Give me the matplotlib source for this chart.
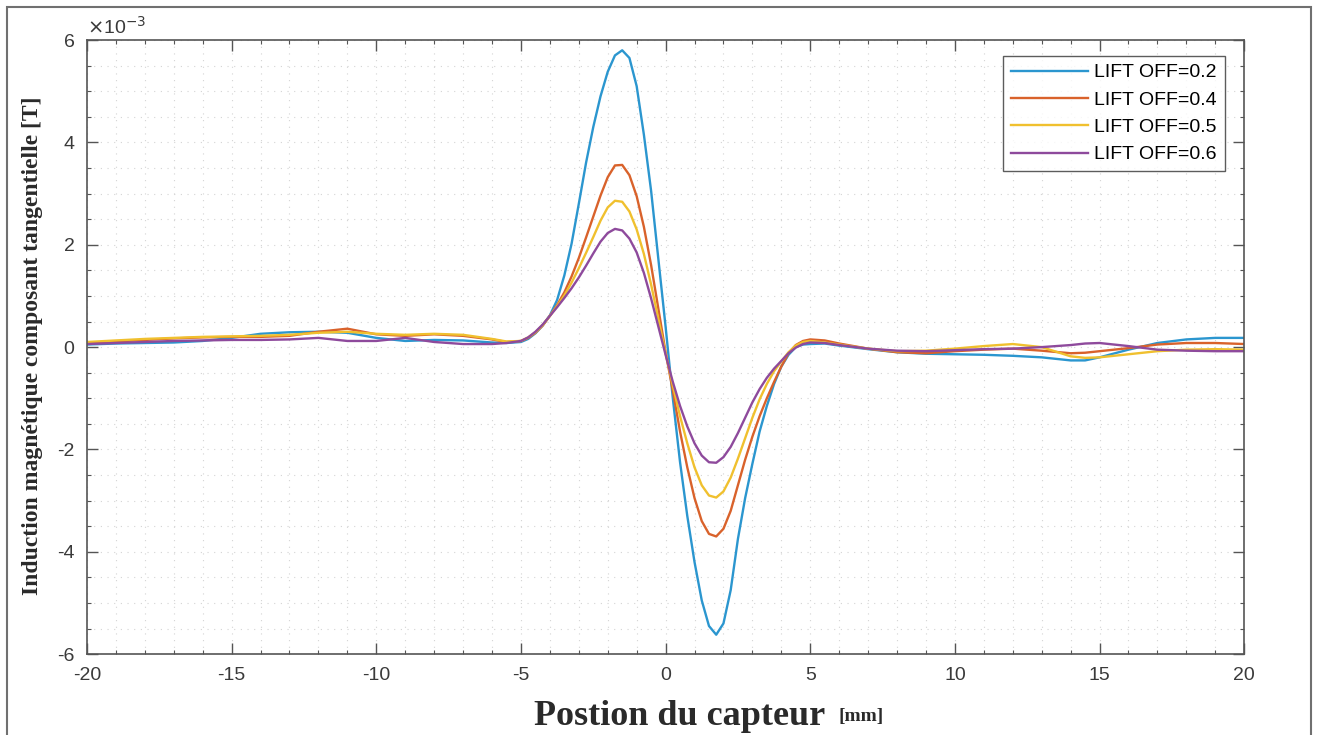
import matplotlib
matplotlib.use("Agg")
import matplotlib.pyplot as plt
from matplotlib.patches import Rectangle
from matplotlib.ticker import MultipleLocator
import numpy as np

# positions du capteur [mm]
x_left = [-20, -19, -18, -17, -16, -15, -14, -13, -12, -11, -10, -9, -8, -7, -6, -5.5]
x_mid = [-5.0, -4.75, -4.5, -4.25, -4.0, -3.75, -3.5, -3.25, -3.0, -2.75, -2.5, -2.25,
         -2.0, -1.75, -1.5, -1.25, -1.0, -0.75, -0.5, -0.25, 0.0, 0.25, 0.5, 0.75,
         1.0, 1.25, 1.5, 1.75, 2.0, 2.25, 2.5, 2.75, 3.0, 3.25, 3.5, 3.75, 4.0, 4.25,
         4.5, 4.75]
x_right = [5, 5.5, 6, 7, 8, 9, 10, 11, 12, 13, 14, 14.5, 15, 16, 17, 18, 19, 20]
position = x_left + x_mid + x_right

# induction tangentielle, en 1e-3 T
b_02 = ([0.05, 0.07, 0.08, 0.09, 0.12, 0.18, 0.26, 0.29, 0.30, 0.28, 0.18, 0.12, 0.14, 0.13, 0.09, 0.08]
        + [0.10, 0.16, 0.27, 0.42, 0.62, 0.92, 1.40, 2.02, 2.80, 3.60, 4.30, 4.90,
           5.38, 5.70, 5.80, 5.65, 5.10, 4.15, 3.05, 1.72, 0.40, -1.00, -2.25, -3.30,
           -4.20, -4.95, -5.45, -5.62, -5.40, -4.75, -3.75, -2.95, -2.28, -1.65, -1.15, -0.72, -0.38, -0.15,
           0.00, 0.05]
        + [0.06, 0.07, 0.03, -0.04, -0.10, -0.13, -0.14, -0.15, -0.17, -0.20, -0.26, -0.26, -0.20, -0.05, 0.08, 0.15, 0.18, 0.18])
b_04 = ([0.08, 0.11, 0.14, 0.17, 0.19, 0.20, 0.20, 0.22, 0.30, 0.36, 0.25, 0.22, 0.25, 0.22, 0.15, 0.10]
        + [0.12, 0.18, 0.28, 0.42, 0.61, 0.82, 1.07, 1.38, 1.74, 2.14, 2.55, 2.96,
           3.32, 3.55, 3.56, 3.36, 2.95, 2.35, 1.60, 0.75, -0.10, -0.85, -1.65, -2.35,
           -2.95, -3.40, -3.65, -3.70, -3.55, -3.20, -2.70, -2.20, -1.75, -1.35, -1.00, -0.68, -0.38, -0.12,
           0.04, 0.12]
        + [0.15, 0.13, 0.07, -0.03, -0.10, -0.12, -0.08, -0.05, -0.03, -0.07, -0.12, -0.11, -0.08, -0.02, 0.05, 0.08, 0.08, 0.06])
b_05 = ([0.10, 0.13, 0.16, 0.18, 0.20, 0.21, 0.22, 0.24, 0.28, 0.30, 0.26, 0.24, 0.26, 0.24, 0.16, 0.11]
        + [0.12, 0.19, 0.29, 0.43, 0.61, 0.80, 1.01, 1.26, 1.54, 1.84, 2.15, 2.47,
           2.73, 2.86, 2.84, 2.65, 2.30, 1.82, 1.22, 0.55, -0.12, -0.75, -1.35, -1.88,
           -2.35, -2.70, -2.90, -2.94, -2.82, -2.55, -2.18, -1.78, -1.38, -1.02, -0.72, -0.47, -0.28, -0.10,
           0.03, 0.10]
        + [0.12, 0.09, 0.05, -0.03, -0.08, -0.07, -0.03, 0.02, 0.06, 0.00, -0.18, -0.21, -0.20, -0.14, -0.08, -0.05, -0.04, -0.05])
b_06 = ([0.06, 0.08, 0.10, 0.12, 0.13, 0.14, 0.14, 0.15, 0.18, 0.12, 0.12, 0.18, 0.10, 0.06, 0.06, 0.08]
        + [0.12, 0.19, 0.30, 0.44, 0.61, 0.78, 0.96, 1.15, 1.36, 1.59, 1.83, 2.06,
           2.23, 2.31, 2.28, 2.12, 1.85, 1.45, 0.95, 0.40, -0.15, -0.68, -1.15, -1.55,
           -1.88, -2.12, -2.25, -2.26, -2.15, -1.95, -1.68, -1.38, -1.08, -0.82, -0.60, -0.42, -0.27, -0.12,
           -0.01, 0.06]
        + [0.09, 0.08, 0.04, -0.03, -0.07, -0.08, -0.06, -0.04, -0.03, 0.00, 0.04, 0.07, 0.08, 0.02, -0.05, -0.07, -0.08, -0.08])

labels = ["LIFT OFF=0.2", "LIFT OFF=0.4", "LIFT OFF=0.5", "LIFT OFF=0.6"]
colors = ["#2b96cf", "#d9622b", "#f0c02e", "#8e4a9c"]

plt.rcParams['axes.unicode_minus'] = False
fig = plt.figure(figsize=(13.18, 7.35), dpi=100)
ax = fig.add_axes([0.066, 0.110, 0.878, 0.8355])

for vals, lab, col in zip([b_02, b_04, b_05, b_06], labels, colors):
    ax.plot(position, vals, color=col, lw=1.7, label=lab)

ax.set_xlim(-20, 20)
ax.set_ylim(-6, 6)
ax.xaxis.set_major_locator(MultipleLocator(5))
ax.yaxis.set_major_locator(MultipleLocator(2))
ax.xaxis.set_minor_locator(MultipleLocator(1))
ax.yaxis.set_minor_locator(MultipleLocator(0.5))
ax.grid(True, which='both', linestyle=(0, (1, 5)), color='#d4d4d4', lw=0.8)
ax.set_axisbelow(True)
ax.tick_params(which='both', direction='in', top=True, right=True, colors='#555555',
               labelcolor='#3a3a3a', labelsize=14)
ax.tick_params(which='major', length=8, width=1)
ax.tick_params(which='minor', length=3, width=0.8)
ax.tick_params(axis='x', which='major', pad=9)
ax.tick_params(axis='y', which='major', pad=9)
for lab in ax.get_xticklabels() + ax.get_yticklabels():
    lab.set_family('Liberation Sans')
for sp in ax.spines.values():
    sp.set_color('#555555')
    sp.set_linewidth(1.2)

ax.text(0.0, 1.004, r"$\times$10$^{-3}$", transform=ax.transAxes, fontsize=14,
        color='#3a3a3a', family='Liberation Sans', ha='left', va='bottom')

leg = ax.legend(loc='upper right', bbox_to_anchor=(0.983, 0.974), frameon=True, fancybox=False,
                prop={'family': 'Liberation Sans', 'size': 14},
                handlelength=4.0, handletextpad=0.3, borderpad=0.4, labelspacing=0.5,
                borderaxespad=0)
leg.get_frame().set_edgecolor('#333333')
leg.get_frame().set_linewidth(1.0)

fig.text(0.025, 0.53, "Induction magnétique composant tangentielle [T]", rotation=90,
         ha='center', va='center', family='Liberation Serif', weight='bold', fontsize=17,
         color='#2a2a2a')
fig.text(0.626, 0.025, "Postion du capteur", ha='right', va='center',
         family='Liberation Serif', weight='bold', fontsize=26, color='#2a2a2a')
fig.text(0.636, 0.025, "[mm]", ha='left', va='center',
         family='Liberation Serif', weight='bold', fontsize=14, color='#2a2a2a')

fig.patches.append(Rectangle((7 / 1318, -0.05), 1304 / 1318, 1.05 - 7 / 735,
                             transform=fig.transFigure, fill=False,
                             edgecolor='#707070', lw=1.5))

fig.savefig("out.png", dpi=100)
